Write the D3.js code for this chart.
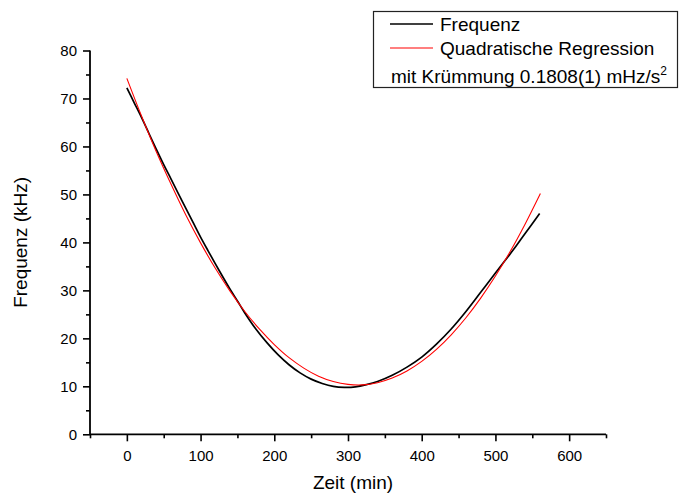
<!DOCTYPE html>
<html>
<head>
<meta charset="utf-8">
<script src="https://cdn.jsdelivr.net/npm/d3@7"></script>
<style>
  html, body { margin: 0; padding: 0; background: #fff; }
  svg { display: block; font-family: "Liberation Sans", Arial, sans-serif; }
</style>
</head>
<body>
<svg id="chart" width="679" height="495"></svg>
<script>
// Measured frequency over time (minutes, kHz)
const measTime = [0, 10, 20, 30, 40, 50, 60, 75, 90, 100, 110, 125, 140, 150, 160, 175, 190, 205, 220, 235, 250, 265, 280, 295, 310, 325, 340, 360, 380, 400, 420, 440, 460, 480, 500, 512, 525, 540, 560];
const measFreq = [72.2, 69.1, 66.0, 62.7, 59.4, 56.2, 53.2, 48.6, 44.1, 41.1, 38.3, 34.2, 30.25, 27.8, 25.3, 21.95, 19.1, 16.6, 14.5, 12.8, 11.5, 10.6, 10.0, 9.8, 9.9, 10.35, 11.0, 12.3, 14.0, 16.1, 18.8, 21.95, 25.6, 29.6, 33.6, 36.0, 38.6, 41.8, 46.0];

// Quadratic regression curve (minutes, kHz)
const fitTime = [0, 20, 40, 60, 80, 100, 120, 140, 160, 180, 200, 220, 240, 260, 280, 300, 320, 340, 360, 380, 400, 420, 440, 460, 480, 500, 520, 540, 561];
const fitFreq = [74.2, 66.3, 58.9, 52.1, 45.7, 39.9, 34.6, 29.85, 25.6, 21.9, 18.7, 15.97, 13.8, 12.1, 11.0, 10.4, 10.3, 10.76, 11.72, 13.2, 15.19, 17.71, 20.75, 24.3, 28.39, 32.99, 38.1, 43.75, 50.2];

// Axis ticks
const xMajorTicks = [0, 100, 200, 300, 400, 500, 600];
const xMinorTicks = [-50, 50, 150, 250, 350, 450, 550, 650];
const yMajorTicks = [0, 10, 20, 30, 40, 50, 60, 70, 80];
const yMinorTicks = [5, 15, 25, 35, 45, 55, 65, 75];

const xTitle = "Zeit (min)";
const yTitle = "Frequenz (kHz)";
const legendLabels = ["Frequenz", "Quadratische Regression"];
const legendNote = "mit Krümmung 0.1808(1) mHz/s";
const legendNoteSup = "2";

const svg = d3.select("#chart");

const x = d3.scaleLinear().domain([-50, 650]).range([90, 606]);
const y = d3.scaleLinear().domain([0, 80]).range([434.3, 50.5]);

const axisColor = "#000";

// x axis: major and minor ticks
const gx = svg.append("g").attr("transform", `translate(0,${y(0)})`);
gx.append("g")
  .call(d3.axisBottom(x).tickValues(xMinorTicks).tickSize(4).tickSizeOuter(0).tickFormat(""))
  .call(g => g.select(".domain").remove());
gx.append("g")
  .call(d3.axisBottom(x).tickValues(xMajorTicks).tickSize(7).tickSizeOuter(0).tickPadding(9));
gx.append("line").attr("x1", x(-50)).attr("x2", x(650)).attr("y1", 0).attr("y2", 0);

// y axis: major and minor ticks
const gy = svg.append("g").attr("transform", `translate(${x(-50)},0)`);
gy.append("g")
  .call(d3.axisLeft(y).tickValues(yMinorTicks).tickSize(4).tickSizeOuter(0).tickFormat(""))
  .call(g => g.select(".domain").remove());
gy.append("g")
  .call(d3.axisLeft(y).tickValues(yMajorTicks).tickSize(7).tickSizeOuter(0).tickPadding(6));
gy.append("line").attr("x1", 0).attr("x2", 0).attr("y1", y(0)).attr("y2", y(80));

svg.selectAll(".domain").remove();
svg.selectAll(".tick line").attr("stroke", axisColor).attr("stroke-width", 1.6);
svg.selectAll(".tick text").attr("fill", "#000").attr("font-size", 15)
  .attr("font-family", "'Liberation Sans', Arial, sans-serif");
gx.select(":scope > line").attr("stroke", axisColor).attr("stroke-width", 1.8);
gy.select(":scope > line").attr("stroke", axisColor).attr("stroke-width", 1.8);

// axis titles
svg.append("text")
  .attr("x", (x(-50) + x(650)) / 2 + 5)
  .attr("y", 489)
  .attr("text-anchor", "middle")
  .attr("font-size", 19)
  .text(xTitle);

svg.append("text")
  .attr("transform", `translate(27,${(y(0) + y(80)) / 2}) rotate(-90)`)
  .attr("text-anchor", "middle")
  .attr("font-size", 19)
  .text(yTitle);

// curves
const line = d3.line().x(d => x(d[0])).y(d => y(d[1])).curve(d3.curveCatmullRom.alpha(0.5));

svg.append("path")
  .datum(measTime.map((t, i) => [t, measFreq[i]]))
  .attr("fill", "none")
  .attr("stroke", "#000")
  .attr("stroke-width", 1.7)
  .attr("d", line);

svg.append("path")
  .datum(fitTime.map((t, i) => [t, fitFreq[i]]))
  .attr("fill", "none")
  .attr("stroke", "#ff0000")
  .attr("stroke-width", 1.1)
  .attr("d", line);

// legend
const lg = svg.append("g");
lg.append("rect")
  .attr("x", 373.5).attr("y", 11.5)
  .attr("width", 304).attr("height", 76)
  .attr("fill", "#fff").attr("stroke", "#222").attr("stroke-width", 1.2);

const legendColors = ["#000", "#ff0000"];
const rowY = [24, 48];
legendLabels.forEach((lab, i) => {
  lg.append("line")
    .attr("x1", 390).attr("x2", 433)
    .attr("y1", rowY[i]).attr("y2", rowY[i])
    .attr("stroke", legendColors[i]).attr("stroke-width", i === 0 ? 1.3 : 1.1);
  lg.append("text")
    .attr("x", 440).attr("y", rowY[i] + 6.5)
    .attr("font-size", 19)
    .text(lab);
});

const note = lg.append("text")
  .attr("x", 391).attr("y", 82.5)
  .attr("font-size", 19)
  .text(legendNote);
note.append("tspan")
  .attr("dy", -8)
  .attr("font-size", 12)
  .text(legendNoteSup);
</script>
</body>
</html>
